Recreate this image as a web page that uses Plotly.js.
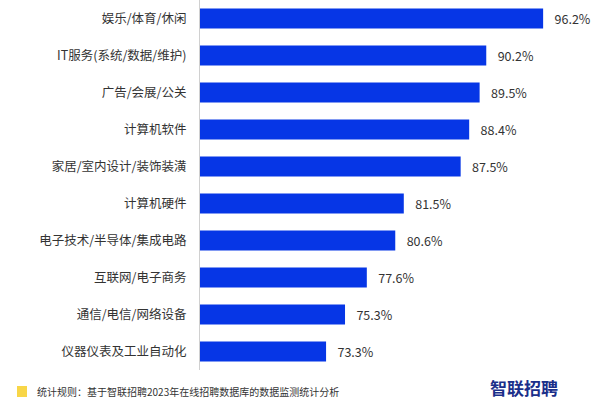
<!DOCTYPE html>
<html>
<head>
<meta charset="utf-8">
<script src="https://cdn.plot.ly/plotly-3.0.1.min.js"></script>
<style>html,body{margin:0;padding:0;background:#fff;}#chart{width:600px;height:400px;}</style>
</head>
<body>
<div id="chart"></div>
<script>
const categories = [
  "娱乐/体育/休闲",
  "IT服务(系统/数据/维护)",
  "广告/会展/公关",
  "计算机软件",
  "家居/室内设计/装饰装潢",
  "计算机硬件",
  "电子技术/半导体/集成电路",
  "互联网/电子商务",
  "通信/电信/网络设备",
  "仪器仪表及工业自动化"
];
const values = [96.2, 90.2, 89.5, 88.4, 87.5, 81.5, 80.6, 77.6, 75.3, 73.3];
const footnote = "统计规则：基于智联招聘2023年在线招聘数据库的数据监测统计分析";
const logoText = "智联招聘";

const font = "'Noto Sans CJK SC', 'Noto Sans', sans-serif";

const trace = {
  type: "bar",
  orientation: "h",
  x: values,
  y: categories,
  marker: {color: "#0636e6"},
  text: values.map(v => v.toFixed(1) + "%"),
  texttemplate: "\u00a0\u00a0\u00a0%{text}",
  textposition: "outside",
  textfont: {size: 12.5, color: "#333", family: font},
  cliponaxis: false,
  hoverinfo: "none"
};

const layout = {
  width: 600, height: 400,
  margin: {l: 200, r: 0, t: 0, b: 30},
  paper_bgcolor: "#fff", plot_bgcolor: "#fff",
  bargap: 0.46,
  showlegend: false,
  font: {family: font, color: "#333", size: 12.5},
  xaxis: {range: [60, 102.2], visible: false, fixedrange: true},
  yaxis: {
    autorange: "reversed",
    showline: true, linecolor: "#d0d0d0", linewidth: 1,
    ticks: "outside", ticklen: 10, tickcolor: "rgba(0,0,0,0)",
    tickfont: {size: 12.5, color: "#333", family: font},
    showgrid: false, zeroline: false
  },
  shapes: [{
    type: "rect", xref: "paper", yref: "paper",
    x0: -183/400, x1: -173/400, y0: -27/370, y1: -16/370,
    fillcolor: "#f8d648", line: {width: 0}
  }],
  annotations: [
    {
      xref: "paper", yref: "paper", x: -165/400, y: -21/370,
      xanchor: "left", yanchor: "middle", showarrow: false,
      text: footnote, font: {size: 10, color: "#333", family: font}
    },
    {
      xref: "paper", yref: "paper", x: 488/400 - 0.5, y: -17/370,
      xanchor: "left", yanchor: "middle", showarrow: false,
      text: "<b>" + logoText + "</b>", font: {size: 17, color: "#1b2f8a", family: font}
    }
  ]
};

Plotly.newPlot("chart", [trace], layout, {displayModeBar: false, staticPlot: true});
</script>
</body>
</html>
